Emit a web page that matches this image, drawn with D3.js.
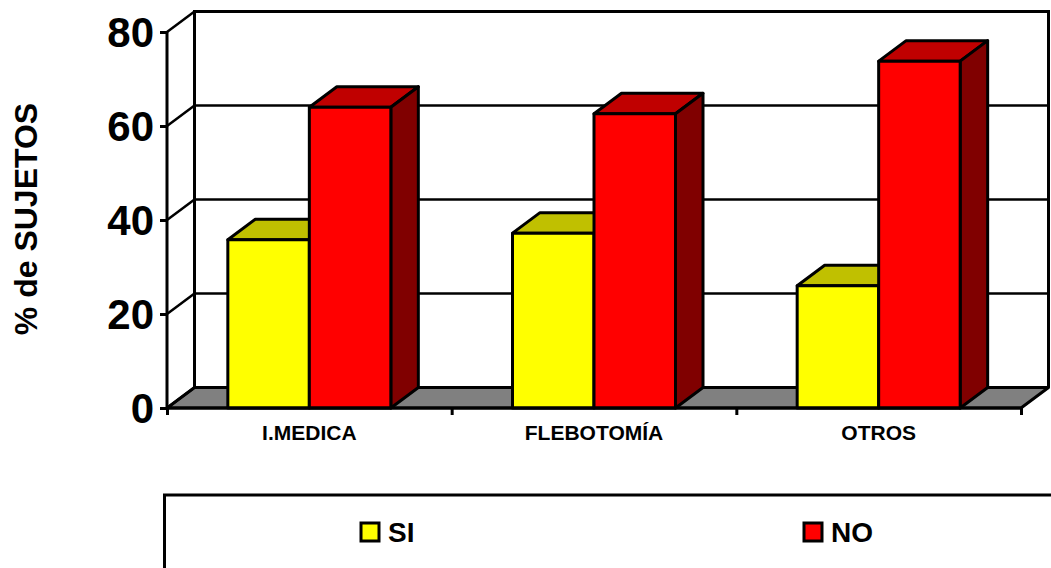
<!DOCTYPE html>
<html><head><meta charset="utf-8">
<script src="https://cdn.jsdelivr.net/npm/d3@7"></script>
<style>html,body{margin:0;padding:0;background:#fff;overflow:hidden}svg{display:block}text{font-family:"Liberation Sans",Arial,sans-serif;font-weight:bold;fill:#000}</style>
</head><body><svg id="c" width="1051" height="568"></svg>
<script>
const categories = ["I.MEDICA","FLEBOTOMÍA","OTROS"];
const seriesNames = ["SI","NO"];
const si = [35.8,37.2,26];
const no = [64,62.6,73.8];
const yTicks = [0,20,40,60,80];
const colors = {SI:{front:"#ffff00",top:"#c0c000"},NO:{front:"#ff0000",top:"#c00000",side:"#800000"}};

const svg = d3.select("#c");
const x = d3.scaleBand().domain(categories).range([167,1021]);
const y = d3.scaleLinear().domain([0,80]).range([408,32]);
const dx = 27.5, dy = -20.5, barW = 81.5;
const poly = pts => pts.map(p=>p.join(",")).join(" ");

// floor
svg.append("polygon").attr("points",poly([[x.range()[0],y(0)],[x.range()[0]+dx,y(0)+dy],[x.range()[1]+dx,y(0)+dy],[x.range()[1],y(0)]]))
  .attr("fill","#808080").attr("stroke","#000").attr("stroke-width",3).attr("stroke-linejoin","round");
// back wall + gridlines
const bx0 = x.range()[0]+dx, bx1 = x.range()[1]+dx;
svg.append("g").selectAll("line").data(yTicks.filter(t=>t>0&&t<80)).join("line")
  .attr("x1",bx0).attr("x2",bx1).attr("y1",d=>y(d)+dy).attr("y2",d=>y(d)+dy).attr("stroke","#000").attr("stroke-width",2.5);
svg.append("path").attr("d",`M${bx0},${y(0)+dy}V${y(80)+dy}H${bx1}V${y(0)+dy}`).attr("fill","none").attr("stroke","#000").attr("stroke-width",3);
// side wall diagonals
svg.append("g").selectAll("line").data(yTicks).join("line")
  .attr("x1",x.range()[0]).attr("x2",bx0).attr("y1",d=>y(d)).attr("y2",d=>y(d)+dy).attr("stroke","#000").attr("stroke-width",2.5);

// y axis
const gy = svg.append("g").attr("transform",`translate(${x.range()[0]},0)`)
  .call(d3.axisLeft(y).tickValues(yTicks).tickSize(7).tickPadding(6));
gy.selectAll("path,line").attr("stroke","#000").attr("stroke-width",3);
gy.select(".domain").attr("d",`M0,${y(80)}V${y(0)}`);
gy.selectAll("text").style("font-size","42px").attr("font-family",null).attr("dy","0.34em");

// bars
const rows = seriesNames.map((s,i)=>({s,vals:i?no:si}));
categories.forEach((c,ci)=>{
  const cx = x(c)+x.bandwidth()/2;
  rows.forEach((r,ri)=>{
    const x0 = cx + (ri-1)*barW, x1 = x0+barW, yt = y(r.vals[ci]), yb = y(0);
    const g = svg.append("g").attr("stroke","#000").attr("stroke-width",3).attr("stroke-linejoin","round");
    g.append("polygon").attr("points",poly([[x0,yt],[x0+dx,yt+dy],[x1+dx,yt+dy],[x1,yt]])).attr("fill",colors[r.s].top);
    if(r.s==="NO") g.append("polygon").attr("points",poly([[x1,yt],[x1+dx,yt+dy],[x1+dx,yb+dy],[x1,yb]])).attr("fill",colors[r.s].side);
    g.append("rect").attr("x",x0).attr("y",yt).attr("width",barW).attr("height",yb-yt).attr("fill",colors[r.s].front);
  });
});

// x axis
const tickPos = [0,1,2,3].map(i=>x.range()[0]+i*x.step());
const gx = svg.append("g").attr("transform",`translate(0,${y(0)})`)
  .call(d3.axisBottom(d3.scaleLinear().domain(x.range()).range(x.range())).tickValues(tickPos).tickSize(7).tickFormat(""));
gx.selectAll("path,line").attr("stroke","#000").attr("stroke-width",3);
gx.select(".domain").attr("d",`M${x.range()[0]},0H${x.range()[1]}`);
svg.append("g").selectAll("text").data(categories).join("text")
  .attr("x",d=>x(d)+x.bandwidth()/2).attr("y",440).attr("text-anchor","middle").style("font-size","21px").text(d=>d);

// y title
svg.append("text").attr("transform","translate(37,219) rotate(-90)").attr("text-anchor","middle").style("font-size","32px").text("% de SUJETOS");

// legend
svg.append("path").attr("d","M1051,495H164.5V568").attr("fill","none").attr("stroke","#000").attr("stroke-width",3);
const lx = d3.scaleOrdinal().domain(seriesNames).range([361,804]);
const lg = svg.append("g").selectAll("g").data(seriesNames).join("g").attr("transform",d=>`translate(${lx(d)},523)`);
lg.append("rect").attr("width",18).attr("height",18).attr("fill",d=>colors[d].front).attr("stroke","#000").attr("stroke-width",3);
lg.append("text").attr("x",27).attr("y",19).style("font-size","28px").text(d=>d);
</script></body></html>
